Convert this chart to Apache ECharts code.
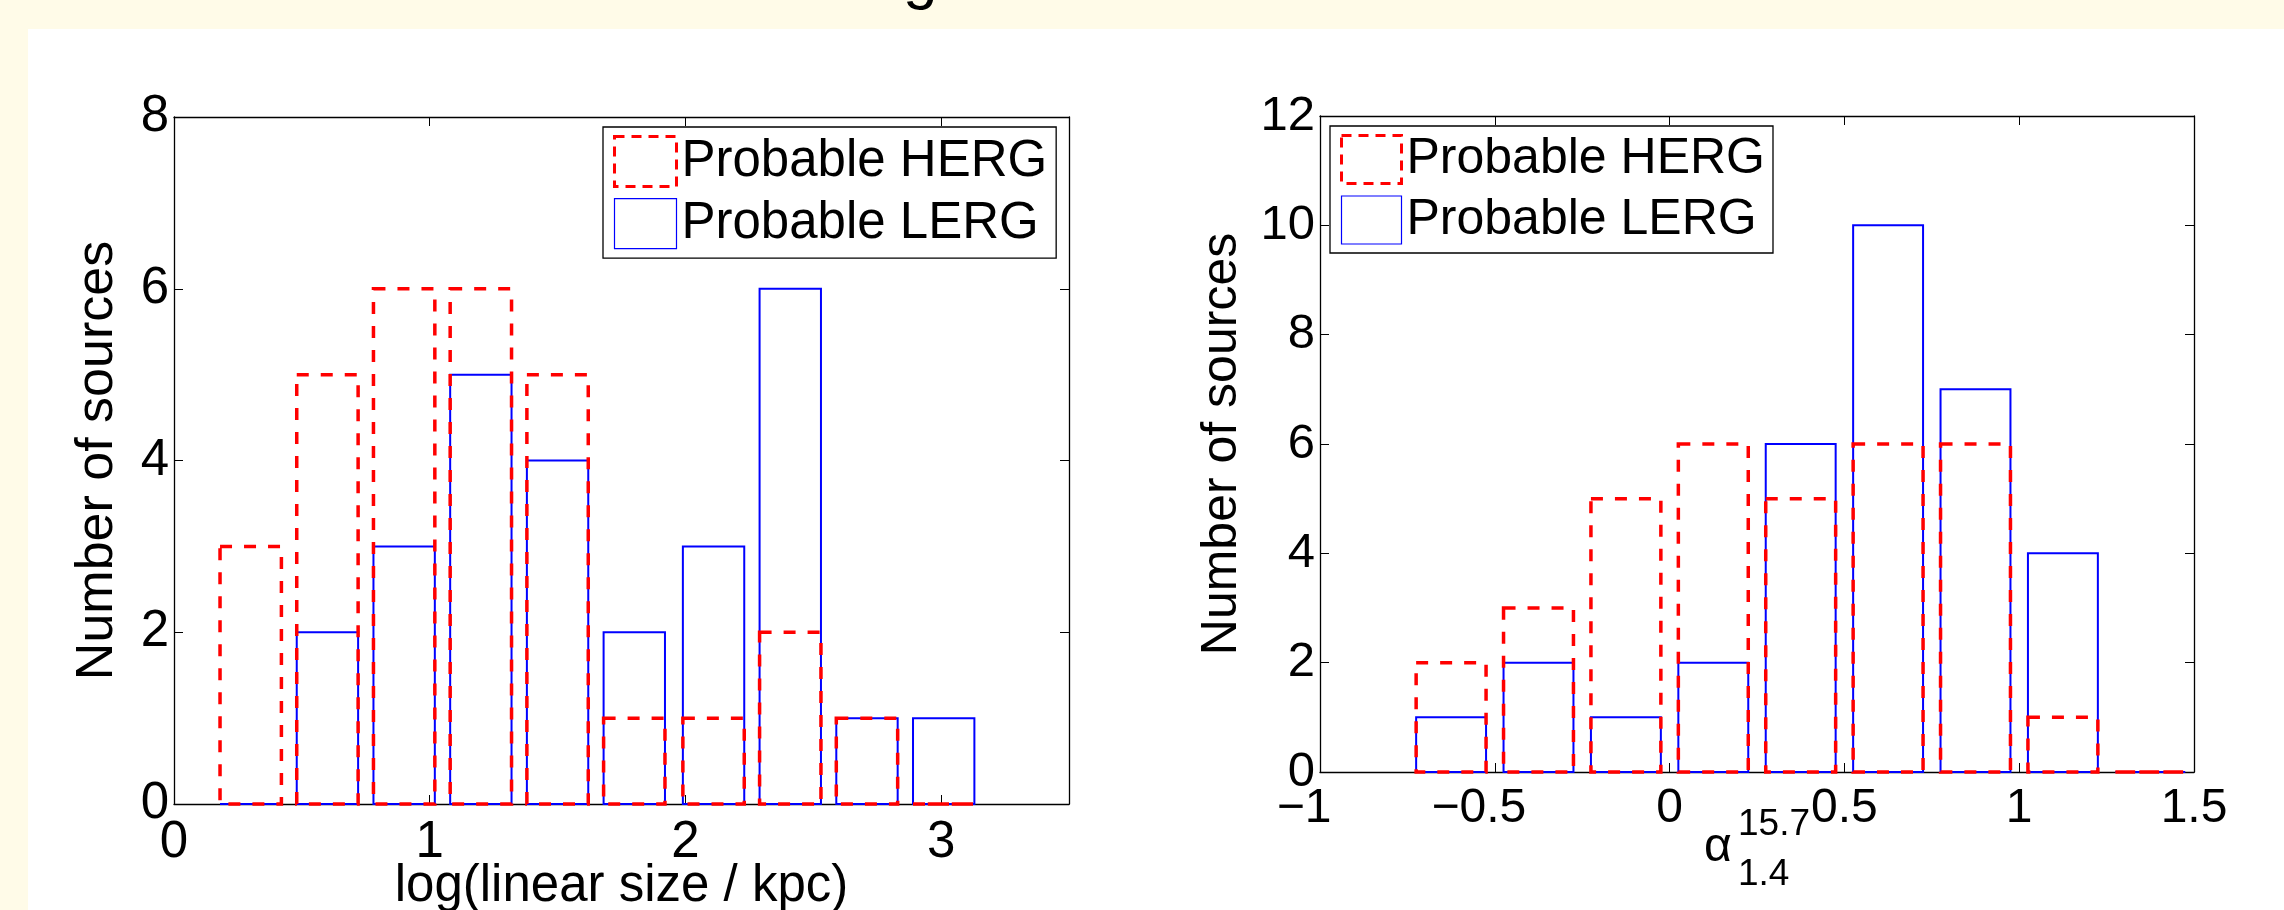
<!DOCTYPE html>
<html lang="en">
<head>
<meta charset="UTF-8">
<title>HERG / LERG histograms</title>
<script src="https://cdn.jsdelivr.net/npm/echarts@6/dist/echarts.min.js"></script>
<style>
body { margin: 0; background: #fffbe8; overflow: hidden; }
.panel { position: absolute; left: 28px; top: 29px; width: 2256px; height: 881px; background: #fff; }
/* slide title, only its descender shows above the figure */
.title { position: absolute; left: 903px; top: -55px; font: 62px/62px "Liberation Sans", Arial, sans-serif; color: #000; }
#chart { position: absolute; left: 0; top: 0; width: 2284px; height: 910px; }
</style>
</head>
<body>
<div class="title">g</div>
<div class="panel"></div>
<div id="chart"></div>
<script>
// bin centres and counts
var sizeBins = [0.30, 0.60, 0.90, 1.20, 1.50, 1.80, 2.11, 2.41, 2.71, 3.01];
var sizeHerg = [3, 5, 6, 6, 5, 1, 1, 2, 1, 0];
var sizeLerg = [0, 2, 3, 5, 4, 2, 3, 6, 1, 1];

var alphaBins = [-0.625, -0.375, -0.125, 0.125, 0.375, 0.625, 0.875, 1.125, 1.375];
var alphaHerg = [2, 3, 5, 6, 5, 6, 6, 1, 0];
var alphaLerg = [1, 2, 1, 2, 6, 10, 7, 4, 0];

var names = ['Probable HERG', 'Probable LERG'];

var RED = '#ff0000', BLUE = '#0000ff';
var FAMILY = '"Liberation Sans", Arial, Helvetica, sans-serif';

function pairs(xs, ys) {
    return xs.map(function (x, i) { return [x, ys[i]]; });
}

// outlined histogram bar, drawn through the axes' scales
function barOutline(binWidth, color, lw, dash) {
    return function (params, api) {
        var c = api.value(0), n = api.value(1);
        var p0 = api.coord([c - binWidth / 2, n]);
        var p1 = api.coord([c + binWidth / 2, 0]);
        return {
            type: 'rect',
            shape: { x: p0[0], y: p0[1], width: p1[0] - p0[0], height: p1[1] - p0[1] },
            style: { fill: 'none', stroke: color, lineWidth: lw, lineDash: dash }
        };
    };
}

function font(fs, extra) {
    return Object.assign({ color: '#000', fontSize: fs, fontFamily: FAMILY }, extra || {});
}

// matlab puts negative tick labels a bit left of the tick
function minusLabel(v) {
    var s = String(v).replace('-', '\u2212');
    return v < 0 ? '{neg|' + s + '}' : s;
}

var axisLine = { onZero: false, lineStyle: { color: '#000', width: 1.3 } };
var tick = { inside: true, length: 9, lineStyle: { color: '#000', width: 1 } };

function xAx(grid, min, max, interval, pos, fs, extra) {
    var a = {
        type: 'value', gridIndex: grid, min: min, max: max, interval: interval, position: pos,
        axisLine: axisLine, axisTick: tick, splitLine: { show: false }, nameMoveOverlap: false,
        axisLabel: pos === 'top' ? { show: false } : font(fs, {
            margin: 13, formatter: minusLabel,
            rich: { neg: font(fs, { padding: [0, 32, 0, 0] }) }
        })
    };
    return Object.assign(a, extra || {});
}
function yAx(grid, max, pos, fs, extra) {
    var a = {
        type: 'value', gridIndex: grid, min: 0, max: max, interval: 2, position: pos,
        axisLine: axisLine, axisTick: tick, splitLine: { show: false }, nameMoveOverlap: false,
        axisLabel: pos === 'right' ? { show: false } : font(fs, { margin: 5 })
    };
    return Object.assign(a, extra || {});
}

function legendFor(left, top, iw, ih, fs, pad, gap) {
    return {
        orient: 'vertical', left: left, top: top, itemWidth: iw, itemHeight: ih, itemGap: gap,
        padding: pad, borderColor: '#000', borderWidth: 1.3, backgroundColor: '#fff',
        textStyle: font(fs),
        selectedMode: false,
        data: [
            { name: names[0], icon: 'rect', itemStyle: { color: 'rgba(0,0,0,0)', borderColor: RED, borderWidth: 3, borderType: [10, 7] } },
            { name: names[1], icon: 'rect', itemStyle: { color: 'rgba(0,0,0,0)', borderColor: BLUE, borderWidth: 1.2 } }
        ]
    };
}

// alpha with sub- and superscript, as a two-line rich text axis name;
// top-aligned tokens sit at lineTop + height / 2
var alphaName = '{sp|}{sup|15.7}\n{a|α}{sub|1.4}';
var alphaRich = {
    sp: { width: 34, height: 30, lineHeight: 30 },
    sup: font(37, { width: 72, height: 30, lineHeight: 30, verticalAlign: 'top', align: 'left' }),
    a: font(48, { width: 34, height: 16, lineHeight: 30, verticalAlign: 'top', align: 'left' }),
    sub: font(37, { width: 72, height: 70, lineHeight: 30, verticalAlign: 'top', align: 'left' })
};

var chart = echarts.init(document.getElementById('chart'));

var option = {
    backgroundColor: 'transparent',
    animation: false,
    grid: [
        { left: 174, top: 117, width: 895, height: 687, outerBoundsMode: 'none' },
        { left: 1320, top: 116, width: 874, height: 656, outerBoundsMode: 'none' }
    ],
    xAxis: [
        xAx(0, 0, 3.5, 1, 'bottom', 51, {
            axisLabel: font(51, { margin: 13, showMaxLabel: false }),
            name: 'log(linear size / kpc)', nameLocation: 'middle', nameGap: 57, nameTextStyle: font(51)
        }),
        xAx(0, 0, 3.5, 1, 'top', 51),
        xAx(1, -1, 1.5, 0.5, 'bottom', 48, {
            name: alphaName, nameLocation: 'middle', nameGap: 38,
            nameTextStyle: font(48, { rich: alphaRich, lineHeight: 30 })
        }),
        xAx(1, -1, 1.5, 0.5, 'top', 48)
    ],
    yAxis: [
        yAx(0, 8, 'left', 51, { name: 'Number of sources', nameLocation: 'middle', nameGap: 50, nameTextStyle: font(52) }),
        yAx(0, 8, 'right', 51),
        yAx(1, 12, 'left', 49, { name: 'Number of sources', nameLocation: 'middle', nameGap: 73, nameTextStyle: font(50) }),
        yAx(1, 12, 'right', 49)
    ],
    legend: [
        legendFor(603, 127, 62, 50, 51, [8, 9, 9, 10], 10),
        legendFor(1330, 126, 60, 48, 50, [8, 8, 8, 10], 10)
    ],
    series: [
        { name: names[1], type: 'custom', xAxisIndex: 0, yAxisIndex: 0, clip: false,
          itemStyle: { color: BLUE }, renderItem: barOutline(0.24, BLUE, 2, null), data: pairs(sizeBins, sizeLerg), z: 2 },
        { name: names[0], type: 'custom', xAxisIndex: 0, yAxisIndex: 0, clip: false,
          itemStyle: { color: RED }, renderItem: barOutline(0.24, RED, 3.5, [12, 12]), data: pairs(sizeBins, sizeHerg), z: 3 },
        { name: names[1], type: 'custom', xAxisIndex: 2, yAxisIndex: 2, clip: false,
          itemStyle: { color: BLUE }, renderItem: barOutline(0.2, BLUE, 2, null), data: pairs(alphaBins, alphaLerg), z: 2 },
        { name: names[0], type: 'custom', xAxisIndex: 2, yAxisIndex: 2, clip: false,
          itemStyle: { color: RED }, renderItem: barOutline(0.2, RED, 3.5, [12, 12]), data: pairs(alphaBins, alphaHerg), z: 3 }
    ]
};

chart.setOption(option);
</script>
</body>
</html>
